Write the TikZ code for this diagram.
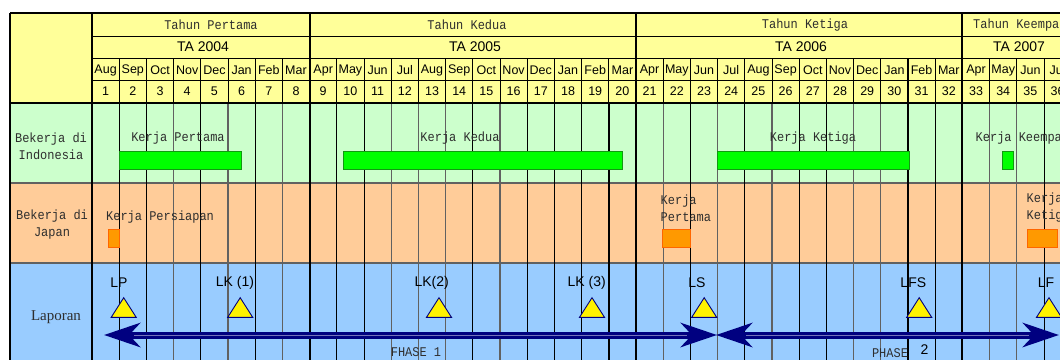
\documentclass[tikz,border=0pt]{standalone}
\usepackage{fontspec}
\setmainfont{Liberation Serif}
\setsansfont{Liberation Sans}
\setmonofont{Liberation Mono}[FakeStretch=0.9]
\usetikzlibrary{arrows.meta,positioning,calc}
\definecolor{hdryellow}{HTML}{FFFF99}
\definecolor{rowgreen}{HTML}{CCFFCC}
\definecolor{roworange}{HTML}{FFCC99}
\definecolor{rowblue}{HTML}{99CCFF}
\definecolor{bargreen}{HTML}{00FF00}
\definecolor{bargreendk}{HTML}{119911}
\definecolor{barorange}{HTML}{FF9900}
\definecolor{barorangedk}{HTML}{FF6600}
\definecolor{navyblue}{HTML}{000080}
\definecolor{txtgray}{HTML}{2E2E2E}
\newcommand{\colx}[1]{92+27.2*#1}

\begin{document}
\begin{tikzpicture}[x=1pt,y=-1pt,
  mono/.style={font=\ttfamily\fontsize{13.3}{17}\selectfont,text=txtgray,inner sep=0pt},
  sans/.style={font=\sffamily\fontsize{12.5}{14}\selectfont,inner sep=0pt},
  bigsans/.style={font=\sffamily\fontsize{14}{16}\selectfont,inner sep=0pt},
  thinline/.style={line width=.9pt,black},
  grayline/.style={line width=1.2pt,black!62},
  heavy/.style={line width=2pt,black},
  gbar/.style={fill=bargreen,draw=bargreendk,line width=1pt},
  obar/.style={fill=barorange,draw=barorangedk,line width=1pt},
  tri/.style={fill=yellow,draw=navyblue,line width=.9pt,line join=miter},
  phase/.style={draw=navyblue,line width=7pt,
    {Stealth[length=36pt,width=24pt,inset=11pt]}-{Stealth[length=36pt,width=24pt,inset=11pt]}},
  phasemid/.style={draw=navyblue!55!white,line width=.8pt}]
\path[use as bounding box] (0,0) rectangle (1060,360);
\clip (0,0) rectangle (1060,360);
\fill[white] (0,0) rectangle (1060,360);
% row backgrounds
\fill[hdryellow] (10,13) rectangle (1060,103);
\fill[rowgreen] (10,103) rectangle (1060,183);
\fill[roworange] (10,183) rectangle (1060,263);
\fill[rowblue] (10,263) rectangle (1060,360);
% header grid
\draw[thinline] (92,36) -- (1060,36);
\draw[thinline] (92,58) -- (1060,58);
\draw[thinline] (92,80) -- (1060,80);
\foreach \k in {1,...,35}
  \draw[thinline] ({\colx{\k}},58) -- ({\colx{\k}},103);
% body grid
\draw[grayline] (10,183) -- (1060,183);
\draw[grayline] (10,263) -- (1060,263);
\foreach \k in {1,2,4,6,9,10,14,16,17,18,22,24,26,27,31,35}
  \draw[thinline] ({\colx{\k}},103) -- ({\colx{\k}},360);
\foreach \k in {3,5,7,11,12,13,15,21,23,25,28,29,33,34}
  \draw[grayline] ({\colx{\k}},103) -- ({\colx{\k}},360);
\draw[heavy] ({\colx{19}},103) -- ({\colx{19}},360);
\draw[heavy] ({\colx{30}},58) -- ({\colx{30}},360);
\foreach \k in {0,8,20,32}
  \draw[heavy] ({\colx{\k}},13) -- ({\colx{\k}},360);
\draw[heavy] (10,13) -- (1060,13);
\draw[heavy] (10,103) -- (1060,103);
\draw[heavy] (10,13) -- (10,360);
% header texts
\node[mono] (y1) at (211,25) {Tahun Pertama};
\node[mono] (y2) at (467,25) {Tahun Kedua};
\node[mono] (y3) at (805,25) {Tahun Ketiga};
\node[mono,anchor=west] (y4) at (973,25) {Tahun Keempat};
\node[bigsans] (ta1) at (203,47) {TA 2004};
\node[bigsans] (ta2) at (475,47) {TA 2005};
\node[bigsans] (ta3) at (801,47) {TA 2006};
\node[bigsans] (ta4) at (1019,47) {TA 2007};
\foreach \m [count=\i] in {Aug,Sep,Oct,Nov,Dec,Jan,Feb,Mar,
    Apr,May,Jun,Jul,Aug,Sep,Oct,Nov,Dec,Jan,Feb,Mar,
    Apr,May,Jun,Jul,Aug,Sep,Oct,Nov,Dec,Jan,Feb,Mar,
    Apr,May,Jun,Jul}
  \node[sans] (m\i) at ({\colx{\i}-13.6},70) {\m};
\foreach \i in {1,...,36}
  \node[sans] (n\i) at ({\colx{\i}-13.6},91) {\i};
% row labels
\node[mono,align=center] (rind) at (51,146) {Bekerja di\\Indonesia};
\node[mono,align=center] (rjap) at (52,225) {Bekerja di\\Japan};
\node[font=\fontsize{15}{17}\selectfont,text=txtgray,inner sep=0pt] (rlap) at (56,317) {Laporan};
% Bekerja di Indonesia
\draw[gbar] (119,151) rectangle (241.7,169.3);
\node[mono] (k1) at (178,138) {Kerja Pertama};
\draw[gbar] (343.3,151) rectangle (622.7,169.3);
\node[mono] (k2) at (460,138) {Kerja Kedua};
\draw[gbar] (717.7,151) rectangle (909,169.3);
\node[mono] (k3) at (813,138) {Kerja Ketiga};
\draw[gbar] (1002.7,151) rectangle (1013.3,169.3);
\node[mono,anchor=west] (k4) at (975.5,138) {Kerja Keempat};
% Bekerja di Japan
\draw[obar] (108.3,229.3) rectangle (119,247.7);
\node[mono,anchor=west] (j1) at (106,217) {Kerja Persiapan};
\draw[obar] (662.3,229.3) rectangle (690,247.7);
\node[mono,anchor=west,align=left] (j2) at (660.5,208) {Kerja\\Pertama};
\draw[obar] (1027.7,229.3) rectangle (1057.7,247.7);
\node[mono,anchor=west,align=left] (j3) at (1026.5,208) {Kerja\\Ketiga};
% Laporan
\foreach \nm/\tx/\lx/\lab in {lp/123.7/119/LP, lk1/240.2/235/LK (1),
    lk2/439/431.7/LK(2), lk3/592/586.7/LK (3), ls/704.2/697/LS,
    lfs/919.2/913.3/LFS, lf/1049/1046/LF}{
  \coordinate (\nm) at (\tx,297.7);
  \draw[tri] (\nm) -- ++(12.5,19.6) -- ++(-25,0) -- cycle;
  \node[bigsans] (\nm-l) at (\lx,283) {\lab};
}
\coordinate (p1a) at (104,335);
\coordinate (p1b) at (717,335);
\coordinate (p2a) at (716,335);
\coordinate (p2b) at (1059,335);
\draw[phase] (p1a) -- (p1b);
\draw[phase] (p2a) -- (p2b);
\draw[phasemid] ($(p1a)+(30,0)$) -- ($(p1b)-(30,0)$);
\draw[phasemid] ($(p2a)+(30,0)$) -- ($(p2b)-(30,0)$);
\node[mono] (ph1) at (416,352) {FHASE 1};
\node[mono] (ph2) at (890,353) {PHASE};
\node[bigsans] (ph2n) at (924.5,350) {2};
\end{tikzpicture}
\end{document}
